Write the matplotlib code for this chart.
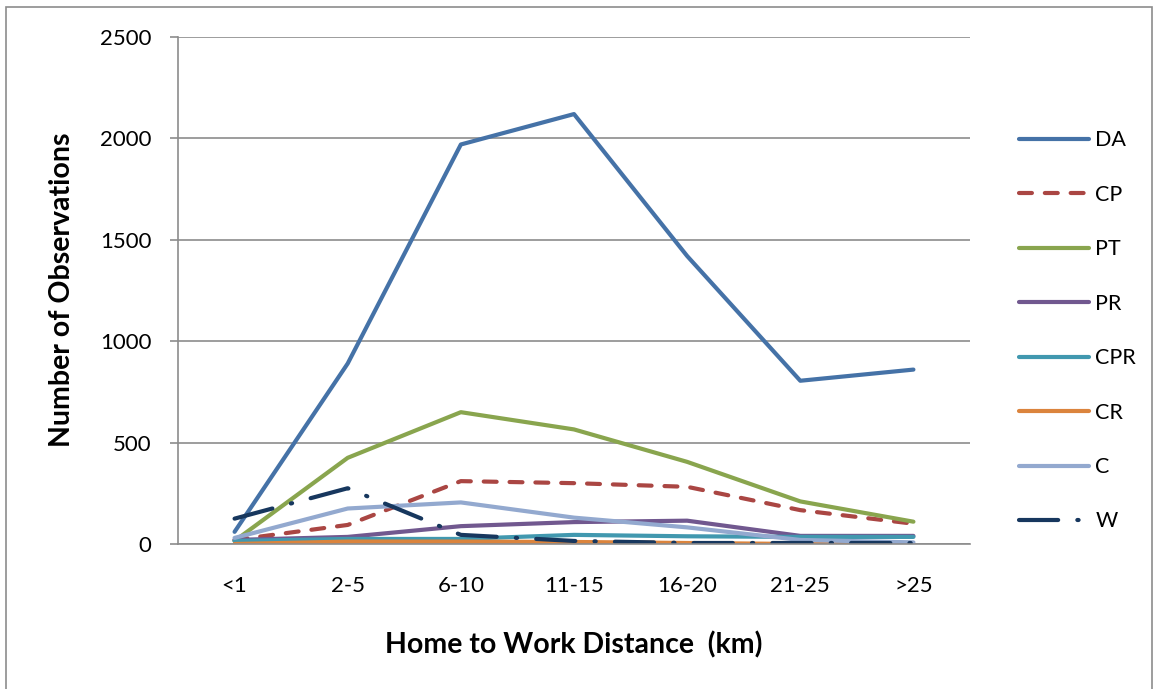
import matplotlib
matplotlib.use("Agg")
import matplotlib.pyplot as plt
from matplotlib.patches import Rectangle

plt.rcParams['font.family'] = ['Lato', 'DejaVu Sans']

categories = ["<1", "2-5", "6-10", "11-15", "16-20", "21-25", ">25"]

DA = [60, 890, 1970, 2120, 1420, 805, 860]
CP = [20, 94, 310, 300, 282, 167, 100]
PT = [15, 425, 650, 565, 405, 210, 110]
PR = [20, 35, 88, 108, 115, 40, 40]
CPR = [15, 25, 25, 45, 38, 35, 35]
CR = [0, 12, 12, 10, 5, 0, 0]
C = [30, 175, 205, 130, 82, 20, 8]
W = [125, 275, 45, 15, 5, 5, 5]

series = [
    ("DA", DA, "#4572A7", "-"),
    ("CP", CP, "#AA4643", (0, (3.1, 3.1))),
    ("PT", PT, "#89A54E", "-"),
    ("PR", PR, "#71588F", "-"),
    ("CPR", CPR, "#4198AF", "-"),
    ("CR", CR, "#DB843D", "-"),
    ("C", C, "#93A9CF", "-"),
    ("W", W, "#17375E", (0, (9.4, 4.6, 0.3, 4.6))),
]

fig = plt.figure(figsize=(11.58, 6.89), dpi=100)
# outer chart border
fig.patches.append(Rectangle((6 / 1158, -0.02), 1146 / 1158, (689 - 7) / 689 + 0.02,
                             transform=fig.transFigure, fill=False,
                             edgecolor="#8c8c8c", linewidth=1.2))

ax = fig.add_axes([178 / 1158, 145 / 689, 792 / 1158, 507 / 689])
x = range(len(categories))
for name, vals, color, ls in series:
    ax.plot(x, vals, color=color, linestyle=ls, linewidth=3,
            dash_capstyle='round', solid_capstyle='round', label=name)

ax.set_xlim(-0.5, len(categories) - 0.5)
ax.set_ylim(0, 2500)
ax.set_yticks(range(0, 2501, 500))
ax.set_xticks(list(x))
ax.set_xticklabels(categories)
ax.yaxis.grid(True, color="#8c8c8c", linewidth=1.2)
ax.set_axisbelow(True)
for s in ["top", "right"]:
    ax.spines[s].set_visible(False)
for s in ["left", "bottom"]:
    ax.spines[s].set_color("#8c8c8c")
    ax.spines[s].set_linewidth(1.2)
ax.tick_params(axis="x", length=0, pad=23, labelsize=16)
ax.tick_params(axis="y", length=6, color="#8c8c8c", width=1.2, pad=13, labelsize=16)

fig.text(62 / 1158, 1 - 290 / 689, "Number of Observations", rotation=90,
         ha="center", va="center", fontsize=20.5, fontweight="bold")
fig.text(574 / 1158, 1 - 645 / 689, "Home to Work Distance  (km)",
         ha="center", va="center", fontsize=20.5, fontweight="bold")

ax.legend(loc="upper left", bbox_to_anchor=(1000 / 1158, 1 - 111 / 689),
          bbox_transform=fig.transFigure, frameon=False, fontsize=15.5,
          handlelength=3.25, handletextpad=0.28, labelspacing=1.6,
          borderaxespad=0.5)

fig.savefig("out.png", dpi=100)
